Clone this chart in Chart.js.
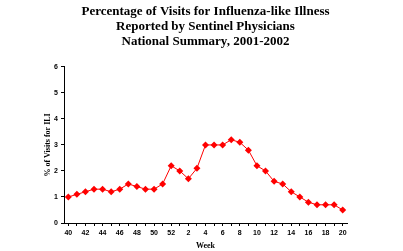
<!DOCTYPE html>
<html lang="en">
<head>
    <meta charset="UTF-8">
    <title>ILI National Summary 2001-2002</title>
    <style>
        body {
            margin: 0;
            padding: 0;
            background: white;
        }
        #wrap {
            width: 403px;
            height: 251px;
        }
    </style>
</head>
<body>
<div id="wrap">
    <canvas id="iliChart" width="403" height="251"></canvas>
</div>
<script src="https://cdn.jsdelivr.net/npm/chart.js"></script>
<script>
    // week numbers, season 2001-2002
    const weeks = ['40', '41', '42', '43', '44', '45', '46', '47', '48', '49', '50', '51', '52',
        '1', '2', '3', '4', '5', '6', '7', '8', '9', '10', '11', '12', '13', '14', '15', '16', '17', '18', '19', '20'];
    // % of visits for ILI
    const iliPercent = [1.0, 1.1, 1.2, 1.3, 1.3, 1.2, 1.3, 1.5, 1.4, 1.3, 1.3, 1.5, 2.2,
        2.0, 1.7, 2.1, 3.0, 3.0, 3.0, 3.2, 3.1, 2.8, 2.2, 2.0, 1.6, 1.5, 1.2, 1.0, 0.8, 0.7, 0.7, 0.7, 0.5];
    const titleLines = ['Percentage of Visits for Influenza-like Illness',
        'Reported by Sentinel Physicians',
        'National Summary, 2001-2002'];
    const yMin = 0;
    const yMax = 6;

    const serif = '"Liberation Serif", "Times New Roman", serif';
    const sans = '"Liberation Sans", Arial, sans-serif';

    const ctx = document.getElementById('iliChart').getContext('2d');
    new Chart(ctx, {
        type: 'line',
        data: {
            labels: weeks,
            datasets: [{
                label: '% ILI',
                data: iliPercent,
                borderColor: '#ff0000',
                backgroundColor: '#ff0000',
                borderWidth: 1,
                pointStyle: 'rectRot',
                pointRadius: 3.5,
                pointBorderWidth: 0,
                tension: 0,
                fill: false
            }]
        },
        options: {
            responsive: false,
            animation: false,
            layout: {
                padding: { left: 0, right: 56, top: 0, bottom: 0 }
            },
            plugins: {
                legend: { display: false },
                tooltip: { enabled: false },
                title: {
                    display: true,
                    fullSize: false,
                    text: titleLines,
                    color: '#000',
                    font: { family: serif, size: 13, weight: 'bold', lineHeight: 1.15 },
                    padding: { top: 4, bottom: 18 }
                }
            },
            scales: {
                x: {
                    offset: true,
                    border: { display: true, color: '#000', width: 1 },
                    grid: { drawOnChartArea: false, drawTicks: true, tickLength: 3, color: '#000', offset: false },
                    ticks: {
                        autoSkip: false,
                        maxRotation: 0,
                        color: '#000',
                        padding: 3,
                        font: { family: sans, size: 7, weight: 'bold' },
                        callback: function (val, i) {
                            return i % 2 === 0 ? weeks[i] : '';
                        }
                    },
                    title: {
                        display: true,
                        text: 'Week',
                        color: '#000',
                        font: { family: serif, size: 8, weight: 'bold' },
                        padding: { top: 4, bottom: 0 }
                    },
                    afterFit: function (scale) { scale.height = 28; }
                },
                y: {
                    min: yMin,
                    max: yMax,
                    border: { display: true, color: '#000', width: 1 },
                    grid: { drawOnChartArea: false, drawTicks: true, tickLength: 3, color: '#000' },
                    ticks: {
                        stepSize: 1,
                        color: '#000',
                        padding: 3,
                        font: { family: sans, size: 7, weight: 'bold' }
                    },
                    title: {
                        display: true,
                        text: '% of Visits for ILI',
                        color: '#000',
                        font: { family: serif, size: 8, weight: 'bold' },
                        padding: { top: 43, bottom: 0 }
                    },
                    afterFit: function (scale) { scale.width = 64; }
                }
            }
        }
    });
</script>
</body>
</html>
